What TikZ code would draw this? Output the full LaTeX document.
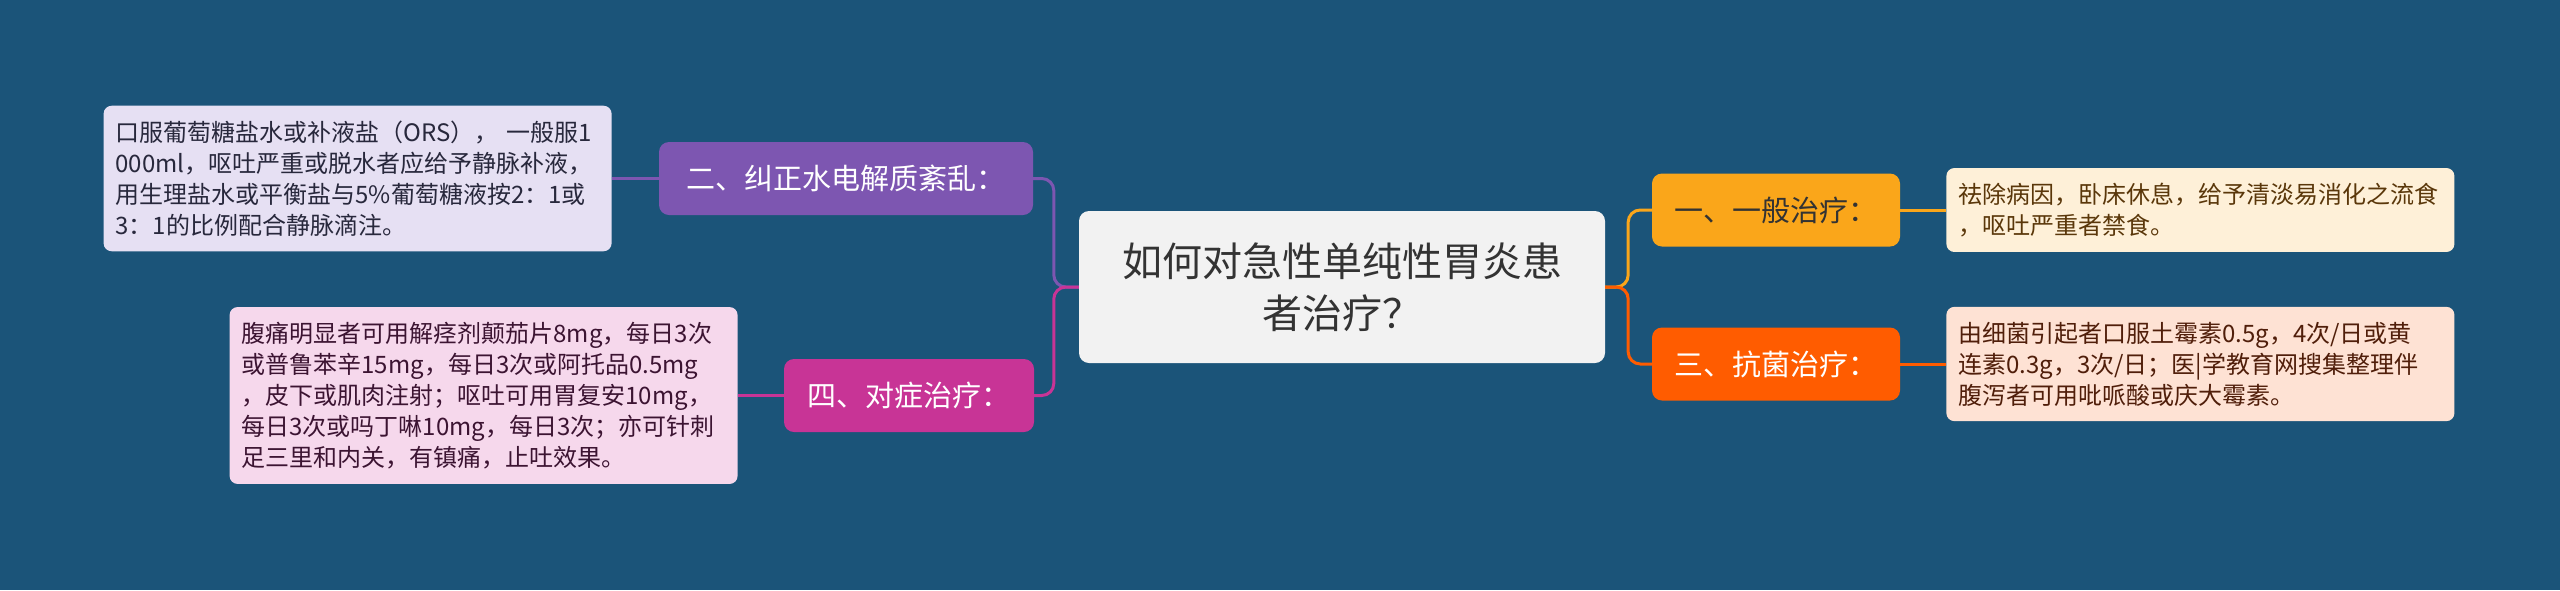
\documentclass[tikz,border=0pt]{standalone}
\usepackage{fontspec}
\setmainfont{Noto Sans CJK SC}
\usepackage{tikz}
\usetikzlibrary{
  backgrounds,
  calc,
  positioning,
}
\definecolor{mapblue}{RGB}{27, 84, 121}
\definecolor{topicgray}{RGB}{242, 242, 242}
\definecolor{topictext}{RGB}{51, 51, 51}
\definecolor{genorange}{RGB}{250, 166, 26}
\definecolor{antired}{RGB}{255, 92, 0}
\definecolor{fixpurple}{RGB}{125, 86, 177}
\definecolor{symmagenta}{RGB}{200, 52, 150}
\definecolor{genleaf}{RGB}{254, 240, 216}
\definecolor{antileaf}{RGB}{254, 226, 212}
\definecolor{fixleaf}{RGB}{230, 224, 243}
\definecolor{symleaf}{RGB}{246, 216, 236}
\tikzstyle{topic} = [
  rectangle,
  rounded corners=10pt,
  fill=topicgray,
  text=topictext,
  minimum width=526pt,
  minimum height=152pt,
  align=center,
  font=\fontsize{40}{52}\selectfont,
]
\tikzstyle{branch} = [
  rectangle,
  rounded corners=10pt,
  minimum height=73pt,
  inner xsep=12pt,
  font=\fontsize{29}{35}\selectfont,
]
\tikzstyle{leaf} = [
  rectangle,
  rounded corners=8pt,
  text width=484pt,
  inner xsep=12pt,
  inner ysep=15pt,
  align=left,
  font=\fontsize{24}{31}\selectfont,
]
\tikzstyle{link} = [
  line width=3pt,
  rounded corners=12pt,
]

\begin{document}
\begin{tikzpicture}[x=1pt, y=-1pt]
  \fill[mapblue] (0,0) rectangle (2560,590);
  \node[topic] (q) at (1342,287) {如何对急性单纯性胃炎患\\者治疗？};
  \node[branch, fill=genorange, text=topictext, minimum width=248pt] (gen) at (1776,210) {一、一般治疗：};
  \node[branch, fill=antired, text=white, minimum width=248pt] (anti) at (1776,364) {三、抗菌治疗：};
  \node[branch, fill=fixpurple, text=white, minimum width=374pt] (fix) at (846,178.5) {二、纠正水电解质紊乱：};
  \node[branch, fill=symmagenta, text=white, minimum width=250pt] (sym) at (909,395.5) {四、对症治疗：};
  \node[leaf, fill=genleaf, text={rgb,255:red,90;green,55;blue,10}, right=46pt of gen] (gentx)
    {祛除病因，卧床休息，给予清淡易消化之流食\\，呕吐严重者禁食。};
  \node[leaf, fill=antileaf, text={rgb,255:red,80;green,30;blue,10}, right=46pt of anti] (antitx)
    {由细菌引起者口服土霉素0.5g，4次/日或黄\\连素0.3g，3次/日；医|学教育网搜集整理伴\\腹泻者可用吡哌酸或庆大霉素。};
  \node[leaf, fill=fixleaf, text={rgb,255:red,40;green,40;blue,60}, left=47pt of fix] (fixtx)
    {口服葡萄糖盐水或补液盐（ORS）， 一般服1\\000ml，呕吐严重或脱水者应给予静脉补液，\\用生理盐水或平衡盐与5\%葡萄糖液按2：1或\\3：1的比例配合静脉滴注。};
  \node[leaf, fill=symleaf, text={rgb,255:red,60;green,20;blue,50}, left=46pt of sym] (symtx)
    {腹痛明显者可用解痉剂颠茄片8mg，每日3次\\或普鲁苯辛15mg，每日3次或阿托品0.5mg\\，皮下或肌肉注射；呕吐可用胃复安10mg，\\每日3次或吗丁啉10mg，每日3次；亦可针刺\\足三里和内关，有镇痛，止吐效果。};
  \draw[link, genorange] (q.east) -- ++(23,0) |- (gen.west);
  \draw[link, antired] (q.east) -- ++(23,0) |- (anti.west);
  \draw[link, fixpurple] (q.west) -- ++(-25,0) |- (fix.east);
  \draw[link, symmagenta] (q.west) -- ++(-25,0) |- (sym.east);
  \draw[link, genorange] (gen.east) -- (gentx.west);
  \draw[link, antired] (anti.east) -- (antitx.west);
  \draw[link, fixpurple] (fixtx.east) -- (fix.west);
  \draw[link, symmagenta] (symtx.east) -- (sym.west);
\end{tikzpicture}
\end{document}
